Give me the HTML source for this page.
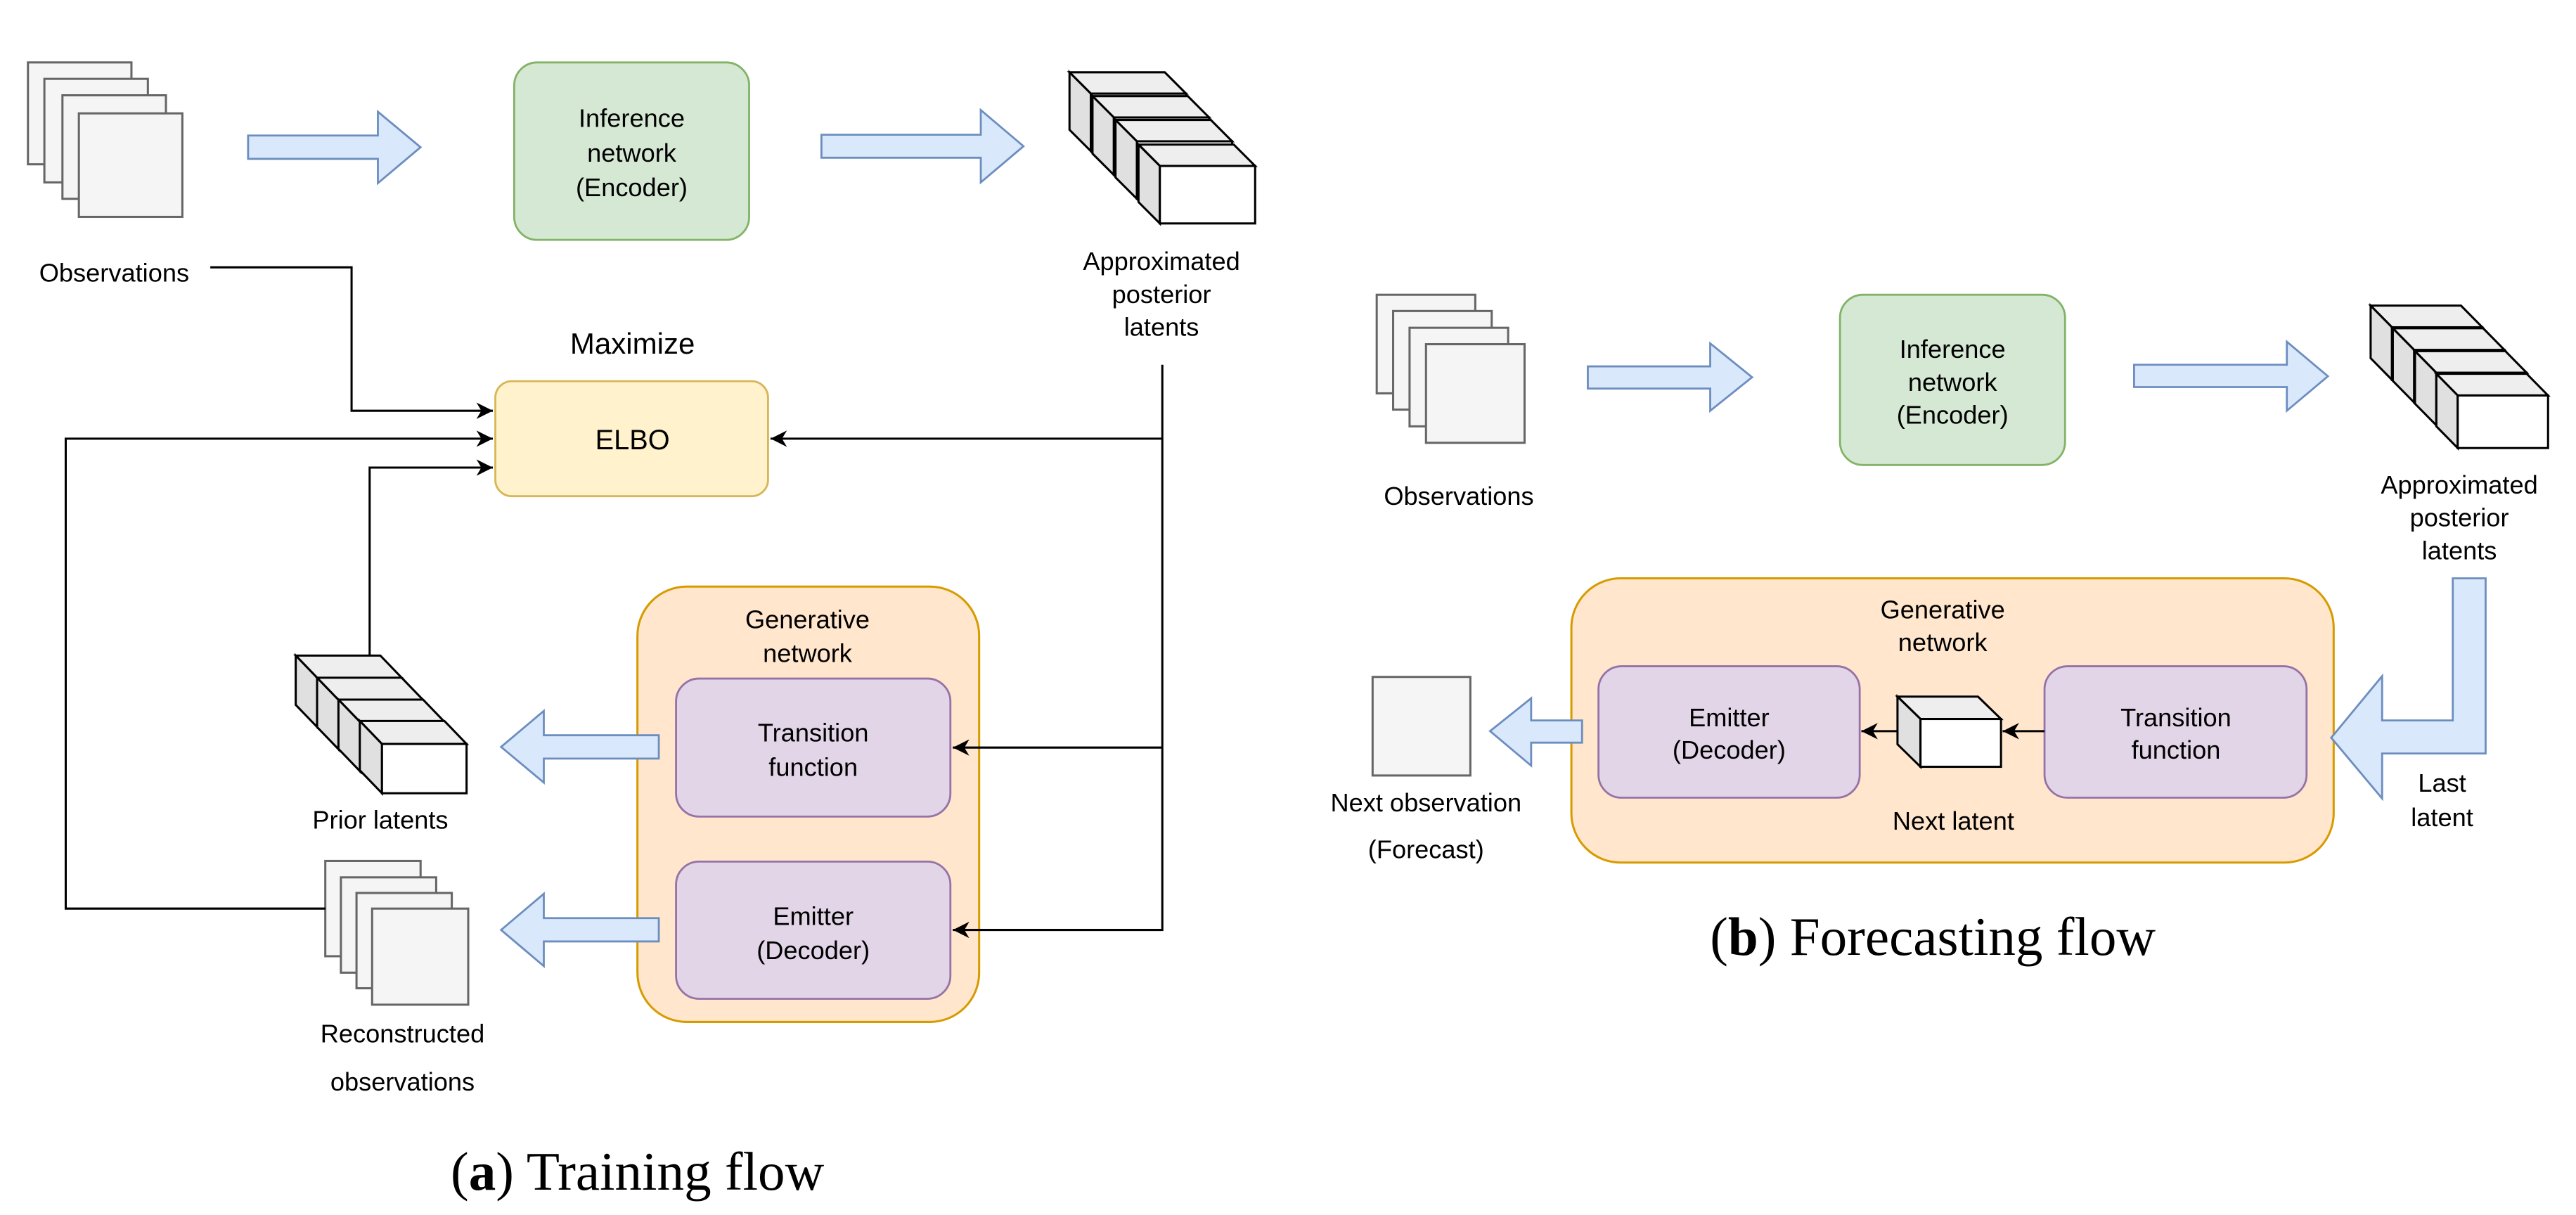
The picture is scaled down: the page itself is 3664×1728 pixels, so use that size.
<!DOCTYPE html>
<html><head><meta charset="utf-8"><style>html,body{margin:0;padding:0;background:#fff}svg{display:block}</style></head>
<body>
<svg width="3664" height="1728" viewBox="0 0 1568 739.5" xmlns="http://www.w3.org/2000/svg" font-family="'Liberation Sans', sans-serif">
<defs>
<marker id="ah" viewBox="0 0 10 10" refX="10" refY="5" markerWidth="10" markerHeight="10" markerUnits="userSpaceOnUse" orient="auto">
<path d="M0,0 L10,5 L0,10 L3,5 Z" fill="#000"/>
</marker>
</defs>
<rect width="1568" height="740" fill="#fff"/>
<g fill="#f5f5f5" stroke="#666" stroke-width="1.3">
<rect x="17" y="38" width="63" height="62"/>
<rect x="27" y="48" width="63" height="63"/>
<rect x="38" y="58" width="63" height="63"/>
<rect x="48" y="69" width="63" height="63"/>
<rect x="198" y="524" width="58" height="58"/>
<rect x="207.5" y="534" width="58" height="58"/>
<rect x="217" y="543.5" width="58" height="58"/>
<rect x="226.5" y="553" width="58.5" height="58.5"/>
<rect x="838" y="179.4" width="60" height="60"/>
<rect x="848" y="189.3" width="60" height="60"/>
<rect x="858" y="199.5" width="60" height="60"/>
<rect x="868" y="209.5" width="60" height="60"/>
<rect x="835.5" y="412" width="59.5" height="60"/>
</g>
<rect x="313" y="38" width="143" height="108" rx="14" fill="#d5e8d4" stroke="#82b366" stroke-width="1.2"/>
<rect x="1120" y="179.4" width="137" height="103.6" rx="14" fill="#d5e8d4" stroke="#82b366" stroke-width="1.2"/>
<rect x="301.5" y="232" width="166" height="70" rx="10" fill="#fff2cc" stroke="#d6b656" stroke-width="1.2"/>
<rect x="388" y="357" width="208" height="265" rx="30" fill="#ffe6cc" stroke="#d79b00" stroke-width="1.3"/>
<rect x="956.5" y="352" width="464" height="173" rx="30" fill="#ffe6cc" stroke="#d79b00" stroke-width="1.3"/>
<g fill="#dae8fc" stroke="#6c8ebf" stroke-width="1.2">
<polygon points="151,82.5 230,82.5 230,68 256,89.6 230,111.5 230,96.7 151,96.7"/>
<polygon points="500,82 597,82 597,67 623,89 597,111 597,96 500,96"/>
<polygon points="401,447.5 331,447.5 331,432.7 305,454.6 331,476.3 331,461.7 401,461.7"/>
<polygon points="401,558.8 331,558.8 331,544 305,566 331,588 331,573 401,573"/>
<polygon points="966.5,223 1041,223 1041,209 1066.5,229.6 1041,250 1041,236.5 966.5,236.5"/>
<polygon points="1299,222 1392,222 1392,208 1417,229 1392,250 1392,235.6 1299,235.6"/>
<polygon points="1493,352 1513,352 1513,458.6 1450,458.6 1450,486 1419,449 1450,411.5 1450,438.5 1493,438.5"/>
<polygon points="963,438.5 932,438.5 932,425 907,445 932,466 932,452 963,452"/>
</g>
<g fill="#e1d5e7" stroke="#9673a6" stroke-width="1.2">
<rect x="411.5" y="413" width="167" height="84" rx="14"/>
<rect x="411.5" y="524.4" width="167" height="83.5" rx="14"/>
<rect x="973" y="405.5" width="159" height="80" rx="14"/>
<rect x="1244.5" y="405.5" width="159.5" height="80" rx="14"/>
</g>
<g stroke="#000" stroke-width="1.3" stroke-linejoin="miter">
<polygon points="651,44 709,44 722,57 664,57" fill="#eee"/><polygon points="651,44 664,57 664,92 651,79" fill="#e0e0e0"/><rect x="664" y="57" width="58" height="35" fill="#fff"/>
<polygon points="665,58.5 723,58.5 736,71.5 678,71.5" fill="#eee"/><polygon points="665,58.5 678,71.5 678,106.5 665,93.5" fill="#e0e0e0"/><rect x="678" y="71.5" width="58" height="35" fill="#fff"/>
<polygon points="679,73 737,73 750,86 692,86" fill="#eee"/><polygon points="679,73 692,86 692,121 679,108" fill="#e0e0e0"/><rect x="692" y="86" width="58" height="35" fill="#fff"/>
<polygon points="693,88 751,88 764,101 706,101" fill="#eee"/><polygon points="693,88 706,101 706,136 693,123" fill="#e0e0e0"/><rect x="706" y="101" width="58" height="35" fill="#fff"/>

<polygon points="180,399 231.5,399 245,413 193.5,413" fill="#eee"/><polygon points="180,399 193.5,413 193.5,443 180,429" fill="#e0e0e0"/><rect x="193.5" y="413" width="51.5" height="30" fill="#fff"/>
<polygon points="193,412.5 244.5,412.5 258,426.5 206.5,426.5" fill="#eee"/><polygon points="193,412.5 206.5,426.5 206.5,456.5 193,442.5" fill="#e0e0e0"/><rect x="206.5" y="426.5" width="51.5" height="30" fill="#fff"/>
<polygon points="206,425.8 257.5,425.8 271,439.8 219.5,439.8" fill="#eee"/><polygon points="206,425.8 219.5,439.8 219.5,469.8 206,455.8" fill="#e0e0e0"/><rect x="219.5" y="439.8" width="51.5" height="30" fill="#fff"/>
<polygon points="219,438.8 270.5,438.8 284,452.8 232.5,452.8" fill="#eee"/><polygon points="219,438.8 232.5,452.8 232.5,482.8 219,468.8" fill="#e0e0e0"/><rect x="232.5" y="452.8" width="51.5" height="30" fill="#fff"/>

<polygon points="1443,186 1498,186 1511,199.2 1456,199.2" fill="#eee"/><polygon points="1443,186 1456,199.2 1456,231.2 1443,218" fill="#e0e0e0"/><rect x="1456" y="199.2" width="55" height="32" fill="#fff"/>
<polygon points="1456.5,199.8 1511.5,199.8 1524.5,213 1469.5,213" fill="#eee"/><polygon points="1456.5,199.8 1469.5,213 1469.5,245 1456.5,231.8" fill="#e0e0e0"/><rect x="1469.5" y="213" width="55" height="32" fill="#fff"/>
<polygon points="1470,213.7 1525,213.7 1538,226.9 1483,226.9" fill="#eee"/><polygon points="1470,213.7 1483,226.9 1483,258.9 1470,245.7" fill="#e0e0e0"/><rect x="1483" y="226.9" width="55" height="32" fill="#fff"/>
<polygon points="1483,227.5 1538,227.5 1551,240.7 1496,240.7" fill="#eee"/><polygon points="1483,227.5 1496,240.7 1496,272.7 1483,259.5" fill="#e0e0e0"/><rect x="1496" y="240.7" width="55" height="32" fill="#fff"/>

<polygon points="1155,424 1204,424 1218,437.6 1169,437.6" fill="#eee"/><polygon points="1155,424 1169,437.6 1169,466.7 1155,453" fill="#e0e0e0"/><rect x="1169" y="437.6" width="49" height="29.1" fill="#fff"/>
</g>
<g fill="none" stroke="#000" stroke-width="1.3">
<polyline points="128,162.7 214,162.7 214,250 300,250" marker-end="url(#ah)"/>
<polyline points="198,553 40,553 40,267 300,267" marker-end="url(#ah)"/>
<polyline points="225,399 225,284.6 300,284.6" marker-end="url(#ah)"/>
<polyline points="707.5,222 707.5,566 580,566" marker-end="url(#ah)"/>
<line x1="707.5" y1="267" x2="469" y2="267" marker-end="url(#ah)"/>
<line x1="707.5" y1="455" x2="580" y2="455" marker-end="url(#ah)"/>
<line x1="1244.5" y1="445" x2="1219" y2="445" marker-end="url(#ah)"/>
<line x1="1155" y1="445" x2="1133" y2="445" marker-end="url(#ah)"/>
</g>
<g font-size="15.5" fill="#000" text-anchor="middle" dominant-baseline="central">
<text x="384.5" y="72">Inference</text><text x="384.5" y="93">network</text><text x="384.5" y="114">(Encoder)</text>
<text x="69.5" y="166">Observations</text>
<text x="707" y="159">Approximated</text><text x="707" y="179">posterior</text><text x="707" y="199">latents</text>
<text x="385" y="209" font-size="18">Maximize</text>
<text x="385" y="268" font-size="17">ELBO</text>
<text x="491.5" y="377">Generative</text><text x="491.5" y="397.5">network</text>
<text x="495" y="446">Transition</text><text x="495" y="467">function</text>
<text x="495" y="557.6">Emitter</text><text x="495" y="578.4">(Decoder)</text>
<text x="231.5" y="499">Prior latents</text>
<text x="245" y="629">Reconstructed</text><text x="245" y="658.5">observations</text>
<text x="888" y="302">Observations</text>
<text x="1188.5" y="212.5">Inference</text><text x="1188.5" y="232.6">network</text><text x="1188.5" y="252.4">(Encoder)</text>
<text x="1497" y="295">Approximated</text><text x="1497" y="315">posterior</text><text x="1497" y="335">latents</text>
<text x="1182.5" y="371">Generative</text><text x="1182.5" y="391">network</text>
<text x="1052.5" y="436.7">Emitter</text><text x="1052.5" y="456.5">(Decoder)</text>
<text x="1324.5" y="436.7">Transition</text><text x="1324.5" y="456.5">function</text>
<text x="1189" y="499.7">Next latent</text>
<text x="1486.5" y="476.6">Last</text><text x="1486.5" y="497.6">latent</text>
<text x="868" y="488.6">Next observation</text><text x="868" y="517">(Forecast)</text>
</g>
<g font-family="'Liberation Serif', serif" font-size="33" text-anchor="middle" dominant-baseline="central">
<text x="388" y="713">(<tspan font-weight="bold">a</tspan>) Training flow</text>
<text x="1176.5" y="570">(<tspan font-weight="bold">b</tspan>) Forecasting flow</text>
</g>
</svg>
</body></html>
